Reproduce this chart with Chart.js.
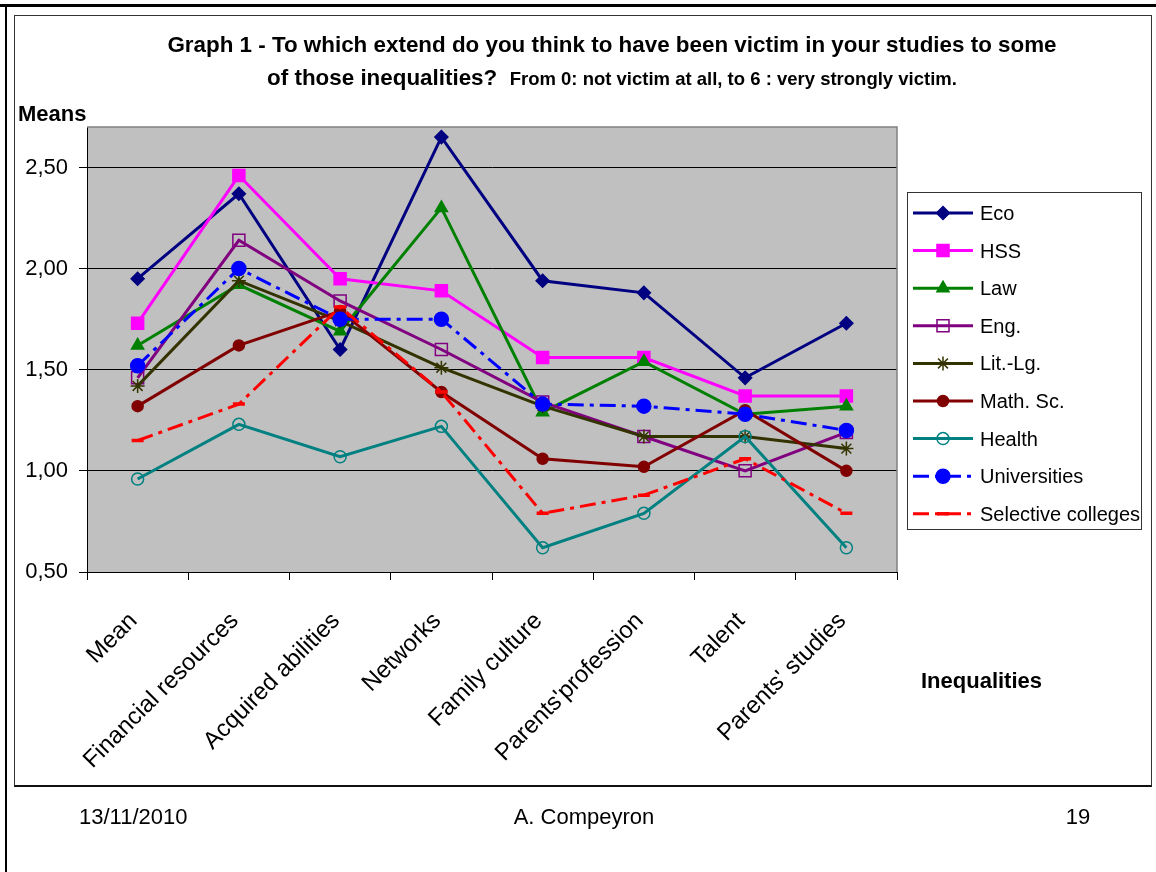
<!DOCTYPE html>
<html><head><meta charset="utf-8">
<script src="https://cdn.jsdelivr.net/npm/chart.js@4.4.0/dist/chart.umd.min.js"></script>
<style>
html,body{margin:0;padding:0;background:#fff;}
body{width:1156px;height:872px;position:relative;overflow:hidden;font-family:"Liberation Sans",Arial,sans-serif;color:#000;}
#wrap{position:absolute;left:0;top:0;width:1156px;height:872px;}
.t{position:absolute;white-space:nowrap;}
.b{font-weight:bold;}
.line{position:absolute;background:#000;}
#legend{position:absolute;left:907px;top:192px;width:235px;height:338px;border:1px solid #333;box-sizing:border-box;}
.li{position:absolute;left:72px;font-size:20px;line-height:24px;white-space:nowrap;}
</style></head><body>
<div class="line" style="left:0;top:4px;width:1156px;height:3px;"></div>
<div class="line" style="left:5px;top:4px;width:2px;height:868px;"></div>
<div style="position:absolute;left:14px;top:15px;width:1138px;height:772px;border:1px solid #333;border-bottom:2px solid #111;box-sizing:border-box;"></div>
<div id="wrap"><canvas id="c"></canvas></div>
<div class="t b" style="left:612px;top:33px;transform:translateX(-50%);font-size:22.4px;line-height:24px;">Graph 1 - To which extend do you think to have been victim in your studies to some</div>
<div class="t b" style="left:612px;top:66px;transform:translateX(-50%);font-size:22.4px;line-height:24px;">of those inequalities?&nbsp; <span style="font-size:18.5px;">From 0: not victim at all, to 6 : very strongly victim.</span></div>
<div class="t b" style="left:18px;top:102px;font-size:22px;line-height:24px;">Means</div>
<div class="t b" style="left:921px;top:669px;font-size:22px;line-height:24px;">Inequalities</div>
<div class="t" style="left:79px;top:805px;font-size:22px;line-height:24px;">13/11/2010</div>
<div class="t" style="left:584px;top:805px;transform:translateX(-50%);font-size:22px;line-height:24px;">A. Compeyron</div>
<div class="t" style="left:1078px;top:805px;transform:translateX(-50%);font-size:22px;line-height:24px;">19</div>
<div id="legend"></div>
<script>
const categories = ["Mean","Financial resources","Acquired abilities","Networks","Family culture","Parents'profession","Talent","Parents' studies"];
const seriesNames = ["Eco","HSS","Law","Eng.","Lit.-Lg.","Math. Sc.","Health","Universities","Selective colleges"];
const eco       = [1.95, 2.37, 1.60, 2.65, 1.94, 1.88, 1.46, 1.73];
const hss       = [1.73, 2.46, 1.95, 1.89, 1.56, 1.56, 1.37, 1.37];
const law       = [1.62, 1.92, 1.69, 2.30, 1.29, 1.54, 1.28, 1.32];
const eng       = [1.46, 2.14, 1.84, 1.60, 1.34, 1.17, 1.00, 1.19];
const litlg     = [1.42, 1.94, 1.74, 1.51, 1.32, 1.17, 1.17, 1.11];
const mathsc    = [1.32, 1.62, 1.79, 1.39, 1.06, 1.02, 1.30, 1.00];
const health    = [0.96, 1.23, 1.07, 1.22, 0.62, 0.79, 1.17, 0.62];
const univ      = [1.52, 2.00, 1.75, 1.75, 1.33, 1.32, 1.28, 1.20];
const selective = [1.15, 1.33, 1.81, 1.39, 0.79, 0.88, 1.06, 0.79];
const yTickValues = [0.5, 1.0, 1.5, 2.0, 2.5];

const FONT = '"Liberation Sans", Arial, sans-serif';
const dash = [16,6,4,6];
function ds(label, data, color, style, radius, fill, opts){
  return Object.assign({
    label, data,
    borderColor: color, borderWidth: 3,
    pointStyle: style, pointRadius: radius, pointHoverRadius: radius,
    pointBackgroundColor: fill, pointBorderColor: color, pointBorderWidth: 1.5,
    tension: 0, fill: false
  }, opts||{});
}
const datasets = [
  ds(seriesNames[0], eco, '#000080', 'rectRot', 6.5, '#000080'),
  ds(seriesNames[1], hss, '#FF00FF', 'rect', 8.5, '#FF00FF'),
  ds(seriesNames[2], law, '#008000', 'triangle', 7, '#008000'),
  ds(seriesNames[3], eng, '#800080', 'rect', 8.5, 'rgba(0,0,0,0)'),
  ds(seriesNames[4], litlg, '#333300', 'star', 7, 'rgba(0,0,0,0)'),
  ds(seriesNames[5], mathsc, '#800000', 'circle', 5.5, '#800000'),
  ds(seriesNames[6], health, '#008080', 'circle', 6, 'rgba(0,0,0,0)'),
  ds(seriesNames[7], univ, '#0000FF', 'circle', 7, '#0000FF', {borderDash: dash}),
  ds(seriesNames[8], selective, '#FF0000', 'line', 6, '#FF0000', {borderDash: dash, pointBorderWidth: 3.5})
];
datasets.forEach((d,i)=>{ d.order = datasets.length - i; });

const LEG_X0 = 913, LEG_X1 = 973, LEG_MX = 943, LEG_Y0 = 213, LEG_STEP = 37.6;
const leg = document.getElementById('legend');
datasets.forEach((d,i)=>{
  const el = document.createElement('div');
  el.className = 'li';
  el.style.top = (LEG_Y0 + i*LEG_STEP - 192 - 1 - 12) + 'px';
  el.textContent = d.label;
  leg.appendChild(el);
});

const bgPlugin = {
  id: 'plotBg',
  beforeDraw(chart){
    const a = chart.chartArea, c = chart.ctx;
    c.save(); c.fillStyle = '#C0C0C0';
    c.fillRect(a.left, a.top, a.right - a.left, a.bottom - a.top);
    c.restore();
  },
  beforeDatasetsDraw(chart){
    const a = chart.chartArea, c = chart.ctx;
    c.save(); c.strokeStyle = '#808080'; c.lineWidth = 1.5;
    c.beginPath(); c.moveTo(a.left, a.top); c.lineTo(a.right, a.top); c.lineTo(a.right, a.bottom); c.stroke();
    c.restore();
  },
  afterDraw(chart){
    const c = chart.ctx;
    chart.data.datasets.forEach((d,i)=>{
      const y = LEG_Y0 + i*LEG_STEP;
      c.save();
      c.strokeStyle = d.borderColor; c.lineWidth = d.borderWidth;
      c.setLineDash(d.borderDash || []);
      c.beginPath(); c.moveTo(LEG_X0, y); c.lineTo(LEG_X1, y); c.stroke();
      c.setLineDash([]);
      c.fillStyle = d.pointBackgroundColor; c.strokeStyle = d.pointBorderColor; c.lineWidth = d.pointBorderWidth;
      Chart.helpers.drawPoint(c, {pointStyle: d.pointStyle, radius: d.pointRadius, rotation: 0, borderWidth: d.pointBorderWidth}, LEG_MX, y);
      c.restore();
    });
  }
};

new Chart(document.getElementById('c'), {
  type: 'line',
  data: { labels: categories, datasets },
  options: {
    responsive: true, maintainAspectRatio: false, animation: false,
    devicePixelRatio: 1,
    layout: { padding: { left: 0, top: 127, right: 259, bottom: 0 } },
    plugins: { legend: { display: false }, tooltip: { enabled: false }, title: { display: false } },
    scales: {
      x: {
        type: 'category', offset: true,
        grid: { display: true, drawOnChartArea: false, drawTicks: true, tickLength: 8, color: '#000', offset: true },
        border: { display: true, color: '#000', width: 1 },
        ticks: { color: '#000', font: { family: FONT, size: 24 }, minRotation: 45, maxRotation: 45, autoSkip: false, padding: 27, labelOffset: -4 },
        afterFit(s){ s.height = 300; }
      },
      y: {
        min: 0.5, max: 2.7,
        grid: { color: '#000', lineWidth: 1, drawTicks: true, tickLength: 8 },
        border: { display: true, color: '#000', width: 1 },
        ticks: { color: '#000', font: { family: FONT, size: 22 }, padding: 11,
          callback: v => v.toFixed(2).replace('.', ',') },
        afterBuildTicks(s){ s.ticks = yTickValues.map(v => ({ value: v })); },
        afterFit(s){ s.width = 87; }
      }
    }
  },
  plugins: [bgPlugin]
});
</script>
</body></html>
